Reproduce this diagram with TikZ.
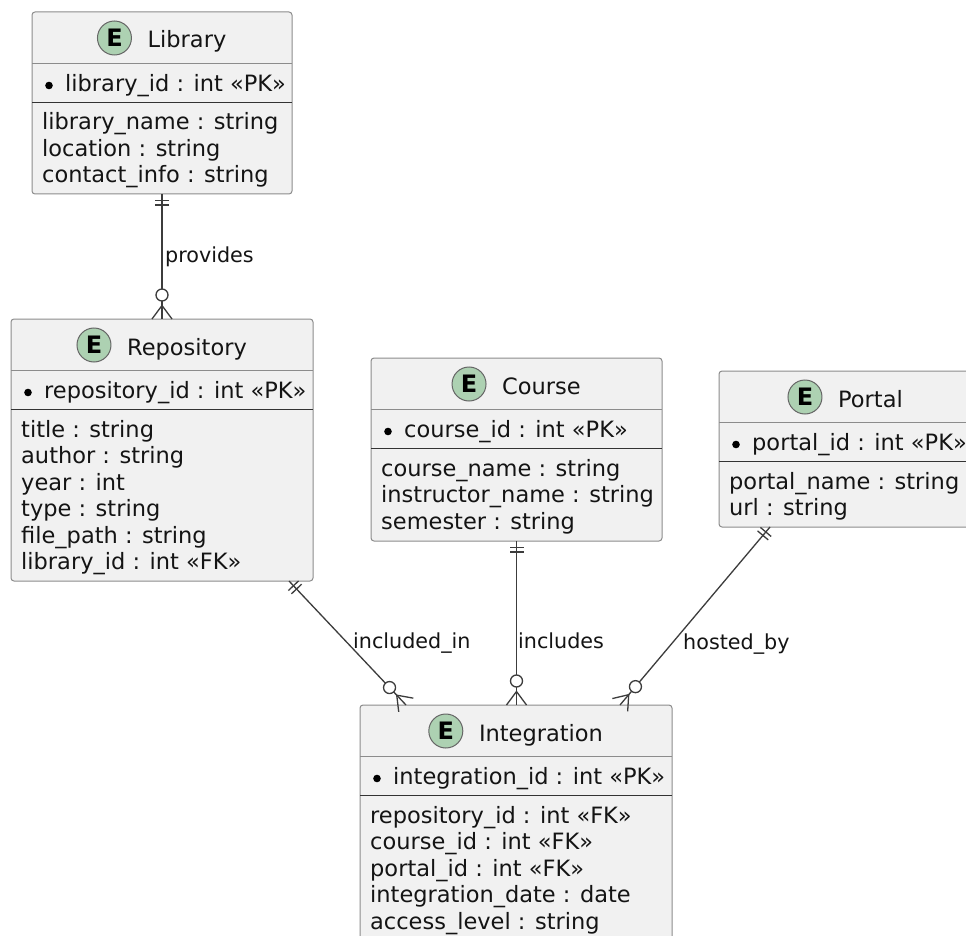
\documentclass[tikz,border=0pt]{standalone}
\usepackage{fontspec}
\setmainfont{DejaVu Sans}
\usetikzlibrary{calc}
\definecolor{boxfill}{HTML}{F1F1F1}
\definecolor{boxline}{HTML}{8C8C8C}
\definecolor{spotfill}{HTML}{ADD1B2}
\definecolor{conncol}{HTML}{3C3C3C}
\tikzset{
  ebox/.style={draw=boxline, fill=boxfill, line width=1pt, rounded corners=3pt, inner sep=0pt, outer sep=0pt, anchor=north west},
  hsep/.style={draw=boxline, line width=0.9pt},
  ksep/.style={draw=black!80, line width=1.5pt},
  ftext/.style={font=\fontsize{22.5}{26.5}\selectfont, inner sep=0pt, anchor=base west, text=black!92},
  ttext/.style={font=\fontsize{22.5}{26.5}\selectfont, inner sep=0pt, anchor=base, text=black!92},
  spot/.style={circle, draw=black!60, fill=spotfill, line width=1pt, minimum size=34pt, inner sep=0pt, font=\fontsize{24}{24}\bfseries\selectfont},
  conn/.style={draw=conncol, line width=1.3pt},
  ltext/.style={font=\fontsize{20.7}{24}\selectfont, inner sep=0pt, anchor=base west, text=black!92},
}
% #1 name, #2 x0, #3 y0, #4 width, #5 height, #6 title, #7 key, #8 fields
\newcommand{\entity}[8]{%
  \node[ebox, minimum width=#4pt, minimum height=#5pt] (#1) at (#2,#3) {};
  \draw[hsep] ([yshift=-51.5pt]#1.north west) -- ([yshift=-51.5pt]#1.north east);
  \draw[ksep] ([yshift=-90.5pt]#1.north west) -- ([yshift=-90.5pt]#1.north east);
  \node[ttext] (#1-t) at ([xshift=25pt, yshift=-36pt]#1.north) {#6};
  \node[spot] (#1-e) at ([xshift=-33pt, yshift=10pt]#1-t.base west) {E};
  \fill[black] ([xshift=17pt, yshift=-73.5pt]#1.north west) circle[radius=3.8pt];
  \node[ftext] (#1-pk) at ([xshift=33pt, yshift=-79.5pt]#1.north west) {#7};
  \foreach \f [count=\i from 0] in {#8} {
    \node[ftext] (#1-f\i) at ([xshift=10pt, yshift={-118-26.5*\i}]#1.north west) {\f};
  }
}
% #1 one end, #2 many end
\newcommand{\erlink}[2]{%
  \draw[conn] (#1) -- (#2);
  \draw[conn] ($(#1)!6.5pt!(#2)!7pt!90:(#2)$) -- ($(#1)!6.5pt!(#2)!7pt!-90:(#2)$);
  \draw[conn] ($(#1)!11pt!(#2)!7pt!90:(#2)$) -- ($(#1)!11pt!(#2)!7pt!-90:(#2)$);
  \draw[conn] ($(#2)!10pt!90:(#1)$) -- ($(#2)!13.5pt!(#1)$) -- ($(#2)!10pt!-90:(#1)$);
  \draw[conn, fill=white] ($(#2)!24pt!(#1)$) circle[radius=6pt];
}
\begin{document}
\begin{tikzpicture}[x=1pt, y=-1pt]
  \fill[white] (0,0) rectangle (966,936);
  \useasboundingbox (0,0) rectangle (966,936);
  \clip (0,0) rectangle (966,936);

  \entity{lib}{32}{12}{260}{182}{Library}{library\_id : int «PK»}{library\_name : string, location : string, contact\_info : string}
  \entity{repo}{11}{319}{302}{262}{Repository}{repository\_id : int «PK»}{title : string, author : string, year : int, type : string, file\_path : string, library\_id : int «FK»}
  \entity{course}{371}{358}{291}{183}{Course}{course\_id : int «PK»}{course\_name : string, instructor\_name : string, semester : string}
  \entity{portal}{719}{371}{253}{156}{Portal}{portal\_id : int «PK»}{portal\_name : string, url : string}
  \entity{integ}{360}{705}{312}{240}{Integration}{integration\_id : int «PK»}{repository\_id : int «FK», course\_id : int «FK», portal\_id : int «FK», integration\_date : date, access\_level : string}

  \coordinate (ri-s) at ([xshift=-24pt]repo.south east);
  \coordinate (ri-e) at ([xshift=46pt]integ.north west);
  \coordinate (ci-e) at (course.south |- integ.north);
  \coordinate (pi-s) at ([xshift=51pt]portal.south west);
  \coordinate (pi-e) at ([xshift=260pt]integ.north west);

  \erlink{lib.south}{repo.north}
  \erlink{ri-s}{ri-e}
  \erlink{course.south}{ci-e}
  \erlink{pi-s}{pi-e}

  \node[ltext] (l1) at (165,262.5) {provides};
  \node[ltext] (l2) at (353,648.5) {included\_in};
  \node[ltext] (l3) at (518,648.5) {includes};
  \node[ltext] (l4) at (683,649.5) {hosted\_by};
\end{tikzpicture}
\end{document}
